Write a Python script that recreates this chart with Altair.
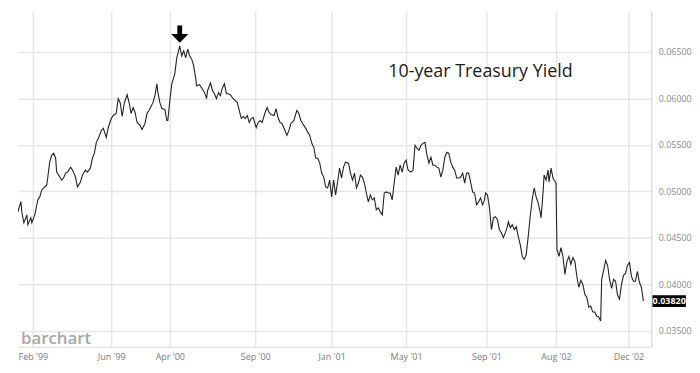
import altair as alt
import pandas as pd

# trading-session position along the (broken) time axis
sessions = [
    0, 3, 4, 6, 9, 10, 13, 14, 17, 20, 22, 24, 26, 29, 30, 32, 34, 36, 38, 39,
    41, 44, 46, 48, 50, 53, 55, 58, 60, 63, 65, 68, 70, 73, 75, 77, 79, 81,
    84, 86, 89, 91, 94, 96, 99, 101, 103, 105, 107, 110, 112, 114, 116, 118, 120, 123,
    125, 128, 130, 132, 134, 136, 138, 140, 141, 143, 145, 148, 150, 151, 153, 155, 158, 160,
    163, 165, 167, 169, 171, 173, 175, 177, 179, 180, 183, 185, 188, 190, 191, 194, 196, 198,
    200, 202, 204, 206, 208, 210, 212, 214, 216, 219, 221, 223, 225, 227, 229, 231, 233, 235, 237, 240,
    242, 244, 246, 249, 251, 253, 255, 258, 260, 262, 264, 266, 269, 271, 273, 275, 278, 280,
    281, 283, 285, 288, 290, 292, 294, 296, 298, 300, 302, 304, 306, 308, 310, 312, 314, 316, 318, 320,
    322, 324, 326, 328, 330, 333, 335, 337, 339, 341, 343, 345, 347, 349, 351, 353, 355, 357,
    359, 361, 363, 365, 367, 369, 371, 373, 375, 377, 379, 381, 383, 385, 387, 389, 391, 393, 396, 398,
    400, 402, 404, 406, 408, 410, 412, 414, 416, 418, 420, 422, 424, 426, 428, 430, 432, 434, 436, 438,
    440, 442, 444, 446, 448, 450, 452, 454, 456, 458, 460, 462, 464, 466, 468, 470, 471, 473, 475, 477,
    479, 481, 483, 485, 487, 489, 491, 493, 494, 496, 498, 500, 502, 504, 506, 508, 510, 512, 514, 516,
    518, 520, 522, 524, 526, 527, 529, 530, 532, 534, 535, 537, 539, 540, 542,
    543, 545, 547, 549, 551, 553, 555, 557, 559, 561, 563, 565, 567, 569, 571, 573, 575, 577, 579, 581,
    583, 585, 587, 588, 590, 592, 594, 596, 598, 600, 602, 604, 606, 608, 610, 612, 614, 616, 618, 620,
    622, 624, 626, 628, 630,
]

yields = [
    .04781, .04891, .0477, .04663, .04748, .04642, .04716, .04663, .04748, .04909,
    .04941, .05016, .05037, .05069, .05144, .05315, .05389, .05411, .05357, .05208,
    .05176, .05122, .05144, .05197, .05208, .05261, .05229, .05154, .05048, .05101,
    .05176, .05229, .05208, .0525, .05357, .05411, .05528, .05571,
    .05656, .05678, .05581, .05688, .05784, .05817, .05838, .05998, .05955, .05806,
    .05945, .0604, .05955, .05838, .05902, .05849, .05742, .0571, .05667, .05731,
    .05838, .0587, .05913, .05955, .0603, .06158, .06062, .05955, .05891, .05881,
    .05763, .05763, .05977, .06158, .06265, .06436,
    .06564, .06457, .06511, .06436, .06532, .06457, .06425, .0635, .06222, .06137,
    .06148, .06116, .06062, .05998, .06083, .06169, .06083, .06051, .05998, .06062,
    .0603, .06116, .06158, .06051, .06051, .0604, .06009, .05977, .05955, .0587,
    .05784, .05806, .05784, .05817, .05742, .05784, .05795, .05688,
    .05742, .05763, .05742, .05849, .05902, .05849, .05827, .05817, .05891, .05795,
    .05742, .05731, .05656, .05603, .05656, .05731, .05763, .05838, .0587, .05838,
    .05763, .0571, .05678, .05635, .05603, .05517, .05475, .05357, .05357, .05304,
    .05197, .05154, .05048, .05037, .05122, .04941, .05122, .04962,
    .05101, .0525, .05144, .05261, .05315, .05304, .05197, .05122, .05197, .05037,
    .0509, .05176, .05154, .0509, .04983, .04887, .04962, .04909, .0493, .04802,
    .04823, .0478, .04748, .04983, .04994, .04983, .04983, .04909, .0509, .05261,
    .05176, .05282, .05208, .05304, .05336, .05229, .05208, .05229,
    .05496, .05464, .05443, .05496, .05517, .05528, .05389, .05304, .05368, .05282,
    .05282, .05261, .0525, .05154, .05229, .05368, .05421, .05411, .05315, .05261,
    .05229, .05144, .05144, .05154, .05197, .0509, .05197, .05197, .05101, .04994,
    .04983, .04855, .04887, .0493, .04855, .04909, .04983, .04962, .04823, .04588,
    .04716, .04727, .04695, .04588, .04556, .04503, .04556, .0462, .04674, .0461,
    .04642, .04588, .0462, .04514, .04428, .043, .04268, .04321, .04514, .04727,
    .04909, .05037, .04941, .04877, .0478, .04716, .04994, .05176, .05122, .05229,
    .05101, .0525, .05144, .05122, .0509,
    .04375, .043, .04396, .043, .04108, .04247, .043, .04214, .04289, .04247,
    .04086, .03969, .04044, .04001, .03894, .03862, .03755, .03766, .03702, .03702,
    .03659, .03649, .03606, .04054, .0415, .04257, .04204, .04054, .03958, .04054,
    .04033, .03883, .03841, .04001, .04097, .04118, .04204, .04236, .04086, .04033,
    .04033, .0414, .04022, .03969, .0382,
]

tick_positions = [15, 94, 153, 239, 316, 391, 472, 542, 615]
tick_labels = ["Feb '99", "Jun '99", "Apr '00", "Sep '00", "Jan '01",
               "May '01", "Sep '01", "Aug '02", "Dec '02"]
y_ticks = [0.035, 0.040, 0.045, 0.050, 0.055, 0.060, 0.065]

title_text = "10-year Treasury Yield"
watermark_text = "barchart"
last_value = yields[-1]

df = pd.DataFrame({"session": sessions, "yield": yields})
peak_df = df.loc[[df["yield"].idxmax()]]
last_df = pd.DataFrame({"session": [sessions[-1]], "yield": [last_value],
                        "label": [f"{last_value:.5f}"]})

label_expr = " : ".join(
    f'datum.value == {p} ? "{l}"' for p, l in zip(tick_positions, tick_labels)
) + ' : ""'

GRID = "#e6e6e6"
x_scale = alt.Scale(domain=[0, 638], nice=False, zero=False)
y_scale = alt.Scale(domain=[0.03328, 0.06938], nice=False, zero=False)

x_enc = alt.X("session:Q", scale=x_scale, axis=alt.Axis(
    values=tick_positions, labelExpr=label_expr, title=None, grid=True,
    gridColor=GRID, gridWidth=1.5, domain=True, domainColor=GRID, domainWidth=1.5,
    ticks=False, labelFontSize=9, labelColor="#7a7a7a", labelPadding=6,
    labelFont="Open Sans", labelFlush=False))
y_enc = alt.Y("yield:Q", scale=y_scale, axis=alt.Axis(
    orient="right", values=y_ticks, format=".5f", title=None, grid=True,
    gridColor=GRID, gridWidth=1.5, domain=True, domainColor="#dddddd", domainWidth=1.5,
    ticks=False, labelFontSize=9, labelColor="#8a8a8a", labelPadding=7,
    labelFont="Open Sans"))

line = alt.Chart(df).mark_line(color="#222222", strokeWidth=1.1, clip=True).encode(
    x=x_enc, y=y_enc)

arrow_path = "M-0.28,-1L0.28,-1L0.28,0L1,0L0,1L-1,0L-0.28,0Z"
arrow = alt.Chart(peak_df).mark_point(
    shape=arrow_path, filled=True, color="black", opacity=1, size=300, yOffset=-12,
    strokeWidth=0
).encode(x=alt.X("session:Q", scale=x_scale), y=alt.Y("yield:Q", scale=y_scale))

title = alt.Chart(pd.DataFrame({"t": [title_text]})).mark_text(
    align="left", baseline="alphabetic", font="Open Sans", fontSize=18, color="#1a1a1a"
).encode(x=alt.value(373), y=alt.value(66), text="t:N")

watermark = alt.Chart(pd.DataFrame({"t": [watermark_text]})).mark_text(
    align="left", baseline="alphabetic", font="Open Sans", fontSize=17, fontWeight=600,
    color="#a8a8a8"
).encode(x=alt.value(3), y=alt.value(335), text="t:N")

box = alt.Chart(last_df).mark_point(
    shape="M-1.4,-0.5L1.4,-0.5L1.4,0.5L-1.4,0.5Z", filled=True, color="black",
    opacity=1, size=576, strokeWidth=0
).encode(x=alt.value(656), y=alt.Y("yield:Q", scale=y_scale))

box_text = alt.Chart(last_df).mark_text(
    align="center", baseline="middle", font="Open Sans", fontSize=9, fontWeight="bold",
    color="white"
).encode(x=alt.value(656), y=alt.Y("yield:Q", scale=y_scale), text="label:N")

chart = alt.layer(line, arrow, title, watermark, box, box_text).properties(
    width=638, height=338,
    padding={"left": 10, "top": 2, "right": 0, "bottom": 0},
    background="white",
).configure_view(stroke=None)

chart.save("out.html", embed_options={"renderer": "svg", "actions": False})
